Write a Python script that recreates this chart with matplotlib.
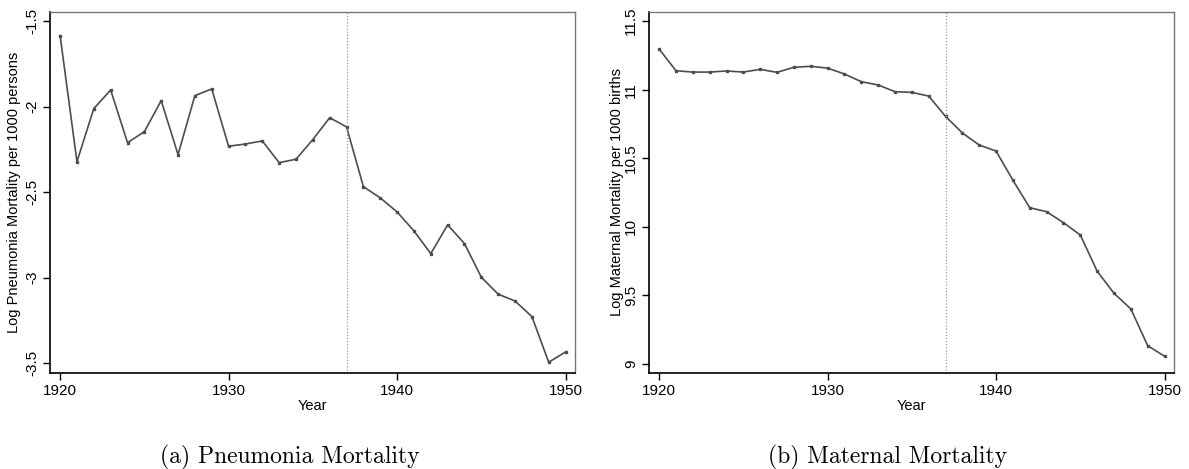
import numpy as np
import matplotlib
matplotlib.use("Agg")
import matplotlib.pyplot as plt

plt.rcParams['font.family'] = ['Liberation Sans', 'DejaVu Sans']

years = np.arange(1920, 1951)

pneumonia = [-1.584, -2.321, -2.011, -1.902, -2.210, -2.146, -1.964, -2.280,
             -1.935, -1.896, -2.231, -2.218, -2.200, -2.327, -2.307, -2.192,
             -2.064, -2.118, -2.467, -2.533, -2.615, -2.726, -2.859, -2.691,
             -2.800, -2.997, -3.096, -3.136, -3.227, -3.494, -3.434]

maternal = [11.296, 11.138, 11.128, 11.128, 11.136, 11.128, 11.148, 11.126,
            11.163, 11.170, 11.157, 11.114, 11.058, 11.034, 10.985, 10.980,
            10.953, 10.805, 10.684, 10.596, 10.552, 10.339, 10.139, 10.110,
            10.030, 9.940, 9.676, 9.515, 9.401, 9.133, 9.056]

break_year = 1937
xticks = [1920, 1930, 1940, 1950]
pn_ticks = [-3.5, -3, -2.5, -2, -1.5]
pn_labels = ['-3.5', '-3', '-2.5', '-2', '-1.5']
mm_ticks = [9, 9.5, 10, 10.5, 11, 11.5]
mm_labels = ['9', '9.5', '10', '10.5', '11', '11.5']

W, H = 1189, 469
fig = plt.figure(figsize=(W / 100, H / 100), dpi=100)


def panel(x0, x1, y0, y1):
    return fig.add_axes([x0 / W, 1 - y1 / H, (x1 - x0) / W, (y1 - y0) / H])


def style(ax, y, ticks, labels, ylim, ylabel, labelpad):
    ax.plot(years, y, color='#4d4d4d', lw=1.2, marker='s', ms=2.0,
            mec='#4d4d4d', mfc='#4d4d4d')
    ax.axvline(break_year, color='#999999', lw=0.9, ls=(0, (1, 1.5)))
    ax.set_xlim(1919.4, 1950.56)
    ax.set_ylim(*ylim)
    ax.set_xticks(xticks)
    ax.set_yticks(ticks)
    ax.set_yticklabels(labels, rotation=90, va='center')
    ax.tick_params(direction='out', length=5, width=1, labelsize=11,
                   color='black', pad=3)
    for s in ['top', 'right']:
        ax.spines[s].set_color('#777777')
        ax.spines[s].set_linewidth(1.0)
    for s in ['left', 'bottom']:
        ax.spines[s].set_color('black')
        ax.spines[s].set_linewidth(1.2)
    ax.set_xlabel('Year', fontsize=10.5, labelpad=1)
    ax.set_ylabel(ylabel, fontsize=10.5, labelpad=labelpad)


ax1 = panel(50, 575, 12, 373)
style(ax1, pneumonia, pn_ticks, pn_labels, (-3.557, -1.446),
      'Log Pneumonia Mortality per 1000 persons', 3)

ax2 = panel(649, 1174, 12, 373)
style(ax2, maternal, mm_ticks, mm_labels, (8.934, 11.566),
      'Log Maternal Mortality per 1000 births', 0)

fig.text(290 / W, 1 - 457 / H, '(a) Pneumonia Mortality', family='cmr10',
         fontsize=17, ha='center', va='center')
fig.text(888 / W, 1 - 457 / H, '(b) Maternal Mortality', family='cmr10',
         fontsize=17, ha='center', va='center')

fig.savefig('out.png', dpi=100)
